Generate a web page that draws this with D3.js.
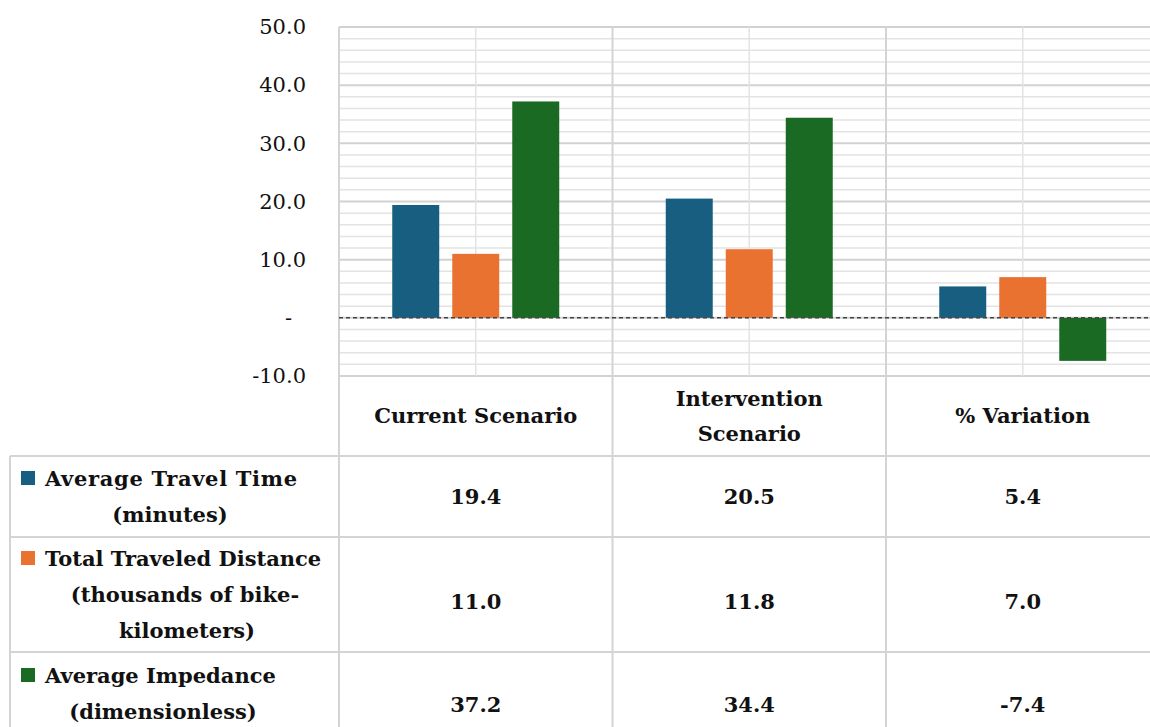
<!DOCTYPE html>
<html><head><meta charset="utf-8">
<script src="https://cdn.jsdelivr.net/npm/d3@7"></script>
<style>body{margin:0;background:#fff}svg{display:block}</style>
</head><body>
<svg id="chart" width="1150" height="727"></svg>
<script>
const categories = ["Current Scenario", "Intervention Scenario", "% Variation"];
const categoryLines = [["Current Scenario"], ["Intervention", "Scenario"], ["% Variation"]];
const seriesNames = ["Average Travel Time (minutes)", "Total Traveled Distance (thousands of bike-kilometers)", "Average Impedance (dimensionless)"];
const seriesLines = [["Average Travel Time", "(minutes)"], ["Total Traveled Distance", "(thousands of bike-", "kilometers)"], ["Average Impedance", "(dimensionless)"]];
const travelTime = [19.4, 20.5, 5.4];
const travelDistance = [11.0, 11.8, 7.0];
const impedance = [37.2, 34.4, -7.4];
const yTicks = [-10, 0, 10, 20, 30, 40, 50];
const yTickLabels = ["-10.0", "-", "10.0", "20.0", "30.0", "40.0", "50.0"];
const colors = ["#175e81", "#e97231", "#1b6a24"];

(function () {
const seriesValues = [travelTime, travelDistance, impedance];
const svg = d3.select("#chart");
const FONT = "'DejaVu Serif', serif";
const FS = 21;
const pLeft = 339, pTop = 27, pBottom = 376, catW = 273.5;
const pRight = pLeft + catW * 3;
const fmt = v => d3.format(".1f")(v).replace("\u2212", "-");

const y = d3.scaleLinear().domain([-10, 50]).range([pBottom, pTop]);
const x0 = d3.scaleBand().domain(categories).range([pLeft, pRight]).paddingInner(0).paddingOuter(0);
const x1 = d3.scaleBand().domain(seriesNames).range([0, x0.bandwidth()]).paddingInner(0.217).paddingOuter(0.8875);

// minor grid
const minor = d3.range(-10, 50.01, 2);
svg.append("g").selectAll("line").data(minor).join("line")
  .attr("x1", pLeft).attr("x2", 1150).attr("y1", d => y(d)).attr("y2", d => y(d))
  .attr("stroke", d => d % 10 === 0 ? "#d2d2d2" : "#e3e3e3")
  .attr("stroke-width", d => d % 10 === 0 ? 2 : 1.5);

// vertical grid (mid-category)
svg.append("g").selectAll("line").data(categories).join("line")
  .attr("x1", d => x0(d) + x0.bandwidth() / 2).attr("x2", d => x0(d) + x0.bandwidth() / 2)
  .attr("y1", pTop).attr("y2", pBottom).attr("stroke", "#e3e3e3").attr("stroke-width", 1.5);

// table lines
const tableTop = 456, rowBounds = [456, 537, 652, 740];
const bounds = categories.map(c => x0(c)).concat([pRight]);
svg.append("g").selectAll("line").data(bounds).join("line")
  .attr("x1", d => d).attr("x2", d => d).attr("y1", pTop).attr("y2", 727)
  .attr("stroke", "#d4d4d4").attr("stroke-width", 2);
svg.append("line").attr("x1", 10).attr("x2", 10).attr("y1", tableTop).attr("y2", 727)
  .attr("stroke", "#d4d4d4").attr("stroke-width", 2);
svg.append("g").selectAll("line").data(rowBounds.slice(0, 3)).join("line")
  .attr("x1", 10).attr("x2", 1150).attr("y1", d => d).attr("y2", d => d)
  .attr("stroke", "#d4d4d4").attr("stroke-width", 2);

// bars
const g = svg.append("g");
seriesNames.forEach((s, si) => {
  g.append("g").selectAll("rect").data(categories).join("rect")
    .attr("x", (c) => x0(c) + x1(s))
    .attr("width", x1.bandwidth())
    .attr("y", (c, i) => y(Math.max(0, seriesValues[si][i])))
    .attr("height", (c, i) => Math.abs(y(seriesValues[si][i]) - y(0)))
    .attr("fill", colors[si]);
});

// zero dashed line
svg.append("line").attr("x1", pLeft).attr("x2", 1150).attr("y1", y(0)).attr("y2", y(0))
  .attr("stroke", "#444").attr("stroke-width", 1.5).attr("stroke-dasharray", "4,3");

// y axis labels
const yAxis = d3.axisLeft(y).tickValues(yTicks).tickFormat((d, i) => yTickLabels[i]).tickSize(0).tickPadding(0);
const ya = svg.append("g").attr("transform", `translate(306,0)`).call(yAxis);
ya.select(".domain").remove();
ya.selectAll("text").attr("font-family", FONT).attr("font-size", FS).attr("fill", "#111")
  .attr("dx", d => d === 0 ? -14 : 0);

// category header
categoryLines.forEach((lines, i) => {
  const cx = x0(categories[i]) + x0.bandwidth() / 2;
  const n = lines.length;
  lines.forEach((t, j) => {
    svg.append("text").attr("x", cx).attr("y", 416 + (j - (n - 1) / 2) * 35)
      .attr("dy", "0.35em").attr("text-anchor", "middle")
      .attr("font-family", FONT).attr("font-weight", "bold").attr("font-size", FS).attr("fill", "#111").text(t);
  });
});

// legend rows
seriesLines.forEach((lines, si) => {
  const firstBase = [486, 566, 683][si];
  lines.forEach((t, j) => {
    const tx = svg.append("text").attr("y", firstBase + j * 36)
      .attr("font-family", FONT).attr("font-weight", "bold").attr("font-size", FS).attr("fill", "#111").text(t);
    if (j === 0) tx.attr("x", 45).attr("text-anchor", "start").attr("textLength", [252, 0, 0][si] || null);
    else tx.attr("x", [170, 185, 163][si] + (j === 2 ? 2 : 0)).attr("text-anchor", "middle");
  });
  svg.append("rect").attr("x", 21).attr("y", firstBase - 15).attr("width", 14).attr("height", 14).attr("fill", colors[si]);
  const vy = [497, 602, 705][si];
  categories.forEach((c, ci) => {
    svg.append("text").attr("x", x0(c) + x0.bandwidth() / 2).attr("y", vy).attr("dy", "0.35em")
      .attr("text-anchor", "middle").attr("font-family", FONT).attr("font-weight", "bold")
      .attr("font-size", FS).attr("fill", "#111").text(fmt(seriesValues[si][ci]));
  });
});
})();
</script>
</body></html>
